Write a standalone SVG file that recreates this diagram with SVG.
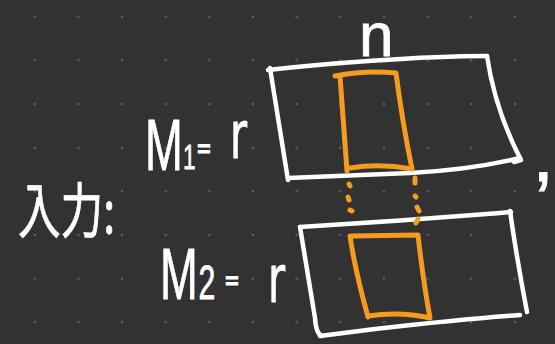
<svg xmlns="http://www.w3.org/2000/svg" width="555" height="344" viewBox="0 0 555 344">
  <defs>
    <pattern id="dots" patternUnits="userSpaceOnUse" x="12.9" y="-5.1" width="43.65" height="43.65">
      <circle cx="21.825" cy="21.825" r="1.3" fill="#5e5e5e"/>
    </pattern>
  </defs>
  <style>
    .w { fill: none; stroke: #ffffff; stroke-width: 4.5; stroke-linecap: round; stroke-linejoin: round; }
    .o { fill: none; stroke: #F59B1F; stroke-width: 5; stroke-linecap: round; stroke-linejoin: round; }
    .hw { fill: #ffffff; stroke: #ffffff; stroke-width: 0.8; font-family: "Liberation Sans", "Noto Sans", sans-serif; }
    .dj { font-family: "DejaVu Sans", "Liberation Sans", sans-serif; }
    .jp { fill: #ffffff; stroke: #ffffff; stroke-width: 0.8; font-family: "Noto Sans CJK JP", "Noto Sans CJK SC", sans-serif; }
  </style>
  <rect width="555" height="344" fill="#323232"/>
  <rect width="555" height="344" fill="url(#dots)"/>

  <g id="label-n">
    <text class="hw" x="359" y="56" font-size="62">n</text>
  </g>

  <g id="label-input">
    <text class="jp" x="18" y="233" font-size="60" textLength="97" lengthAdjust="spacingAndGlyphs">入力:</text>
  </g>

  <g id="label-m1">
    <text class="hw" transform="scale(0.63,1)"><tspan x="230.2" y="170" font-size="72">M</tspan><tspan x="290.5" y="169" font-size="36">1</tspan><tspan class="dj" x="311" y="158" font-size="30">= </tspan><tspan class="dj" x="365" y="158" font-size="66">r</tspan></text>
  </g>

  <g id="label-m2">
    <text class="hw" transform="scale(0.63,1)"><tspan x="254" y="299" font-size="72">M</tspan><tspan x="315" y="299" font-size="48">2</tspan><tspan class="dj" x="355.6" y="290" font-size="30">= </tspan><tspan class="dj" x="425.4" y="302" font-size="66">r</tspan></text>
  </g>

  <g id="label-comma">
    <text class="hw" x="532" y="181" font-size="80">,</text>
  </g>

  <g id="matrix-m1">
    <path class="w" d="M268,70 C320,64 420,56 487,56"/>
    <path class="w" d="M487,56 Q495,110 521,160 L514,162"/>
    <path class="w" d="M520,158 Q470,170 410,173 L288,178"/>
    <path class="w" d="M270,68 L288,180"/>
    <path class="o" d="M335,76 Q365,70 396,73 Q402,120 412,169 Q380,163 350,168 M340,76 L347,171"/>
  </g>

  <g id="matrix-m2">
    <path class="w" d="M300,227 Q400,221 500,213 L511,212"/>
    <path class="w" d="M510,211 Q517,260 527,312"/>
    <path class="w" d="M520,315 Q462,319 375,329 L320,336"/>
    <path class="w" d="M300,227 L315,318 Q316,334 322,336"/>
    <path class="o" d="M352,236 L418,235 Q423,280 430,318 Q400,311 368,316 M350,236 Q355,270 368,317"/>
  </g>

  <g id="connectors">
    <path class="o" d="M349,184 L350,186 M348,197 L349,200 M350,210 L352,211"/>
    <path class="o" d="M415,178 L415,183 M415,196 L416,197 M417,207 L419,211 M418,219 L416,223"/>
  </g>
</svg>
